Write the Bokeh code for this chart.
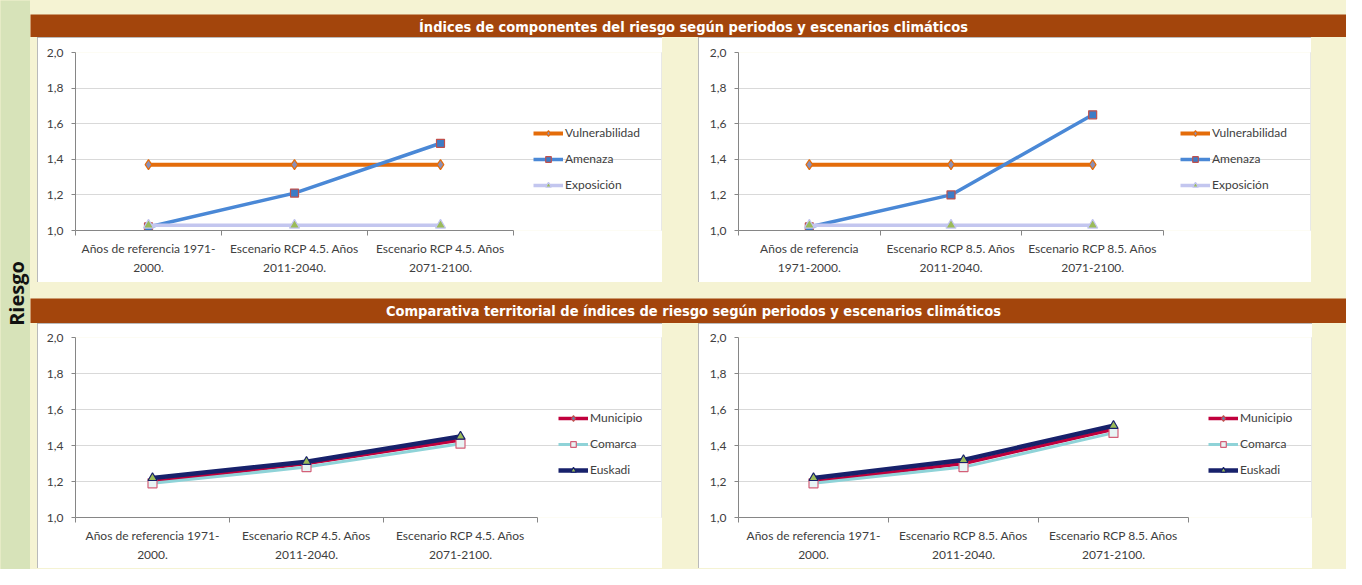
import numpy as np
from math import pi
from bokeh.plotting import figure
from bokeh.layouts import row, column
from bokeh.models import (Range1d, FixedTicker, CustomJSTickFormatter, Legend,
                          LegendItem, Label, Spacer)
from bokeh.embed import file_html
from bokeh.resources import INLINE

# ---------------- data ----------------
labels_45 = ["Años de referencia 1971-\n2000.",
             "Escenario RCP 4.5. Años\n2011-2040.",
             "Escenario RCP 4.5. Años\n2071-2100."]
labels_85_top = ["Años de referencia\n1971-2000.",
                 "Escenario RCP 8.5. Años\n2011-2040.",
                 "Escenario RCP 8.5. Años\n2071-2100."]
labels_85_bottom = ["Años de referencia 1971-\n2000.",
                    "Escenario RCP 8.5. Años\n2011-2040.",
                    "Escenario RCP 8.5. Años\n2071-2100."]

vulnerabilidad_45 = [1.37, 1.37, 1.37]
amenaza_45 = [1.02, 1.21, 1.49]
exposicion_45 = [1.03, 1.03, 1.03]

vulnerabilidad_85 = [1.37, 1.37, 1.37]
amenaza_85 = [1.02, 1.20, 1.65]
exposicion_85 = [1.03, 1.03, 1.03]

municipio_45 = [1.20, 1.30, 1.43]
comarca_45 = [1.19, 1.28, 1.41]
euskadi_45 = [1.22, 1.31, 1.45]

municipio_85 = [1.20, 1.30, 1.49]
comarca_85 = [1.19, 1.28, 1.47]
euskadi_85 = [1.22, 1.32, 1.51]

y_ticks = [1.0, 1.2, 1.4, 1.6, 1.8, 2.0]

title_top = "Índices de componentes del riesgo según periodos y escenarios climáticos"
title_bottom = "Comparativa territorial de índices de riesgo según periodos y escenarios climáticos"
side_label = "Riesgo"

# ---------------- styles ----------------
CREAM = "#f5f3d3"
GREEN = "#d7e3b9"
BAR = "#a3450c"
AXIS_FONT = "Lato"
TXT = "#404040"

series_top = [
    dict(name="Vulnerabilidad", line="#e46c0a", width=4, marker="diamond", size=10,
         fill="#8c90b6", mline="#e46c0a"),
    dict(name="Amenaza", line="#4a88d6", width=3.5, marker="square", size=8,
         fill="#3d7cc6", mline="#c0504d"),
    dict(name="Exposición", line="#c3c6ef", width=3.5, marker="triangle", size=10,
         fill="#9bbb59", mline="#c3c6ef"),
]
series_bottom = [
    dict(name="Municipio", line="#c0003c", width=3.5, marker="diamond", size=9,
         fill="#4f81bd", mline="#c0504d"),
    dict(name="Comarca", line="#8fd3d8", width=3, marker="square", size=9,
         fill="#e8f4f4", mline="#d35f78"),
    dict(name="Euskadi", line="#17216b", width=4.5, marker="triangle", size=9,
         fill="#9bbb59", mline="#17216b"),
]


def deco(width, height, color, text, font, size, tx, ty, style="bold", angle=0.0,
         text_color="white"):
    p = figure(width=width, height=height, x_range=Range1d(0, width),
               y_range=Range1d(0, height),
               output_backend="svg", toolbar_location=None, x_axis_type=None,
               y_axis_type=None, min_border=0, background_fill_color=color,
               border_fill_color=color, outline_line_color=None)
    p.add_layout(Label(x=tx, y=height - ty, text=text, text_align="center",
                       text_baseline="middle", text_font=font, text_font_size=size,
                       text_font_style=style, text_color=text_color, angle=angle))
    return p


def chart(panel_w, axis_len, fh, bl, bt, bb, labels, values, specs, legend_xy):
    n = len(labels)
    fw = panel_w - bl - 1                      # frame also hosts the legend area
    x_end = n * fw / axis_len                  # axis itself spans 0..n
    p = figure(frame_width=fw, frame_height=fh, x_range=Range1d(0, x_end),
               y_range=Range1d(1.0, 2.0),
               output_backend="svg", toolbar_location=None,
               min_border_left=bl, min_border_right=1, min_border_top=bt,
               min_border_bottom=bb, background_fill_color="white",
               border_fill_color="white", outline_line_color=None,
               styles={"outline": "1px solid #a3a3a3", "outline-offset": "-1px"})
    xs = np.arange(n) + 0.5
    # x axis: labels at centres, ticks at boundaries
    p.xaxis.bounds = (0, n)
    p.xaxis.ticker = FixedTicker(ticks=list(xs), minor_ticks=list(np.arange(n + 1)))
    p.xaxis.major_label_overrides = {float(x): l for x, l in zip(xs, labels)}
    p.xaxis.major_tick_line_color = None
    p.xaxis.major_tick_out = 4
    p.xaxis.major_tick_in = 0
    p.xaxis.minor_tick_line_color = "#868686"
    p.xaxis.minor_tick_out = 5
    p.xaxis.minor_tick_in = 0
    p.xaxis.major_label_standoff = 5
    p.xaxis.major_label_text_line_height = 1.3
    # y axis
    p.yaxis.ticker = FixedTicker(ticks=y_ticks, minor_ticks=[])
    p.yaxis.formatter = CustomJSTickFormatter(code="return tick.toFixed(1).replace('.', ',');")
    p.yaxis.major_tick_out = 4
    p.yaxis.major_tick_in = 0
    p.yaxis.major_tick_line_color = "#868686"
    p.yaxis.major_label_standoff = 8
    for ax in (p.xaxis, p.yaxis):
        ax.axis_line_color = "#868686"
        ax.major_label_text_font = AXIS_FONT
        ax.major_label_text_font_size = "12px"
        ax.major_label_text_color = TXT
    p.xgrid.visible = False
    p.ygrid.ticker = FixedTicker(ticks=y_ticks[1:])
    p.ygrid.bounds = (0, n)
    p.ygrid.grid_line_color = "#d9d9d9"

    items = []
    for vals, s in zip(values, specs):
        r1 = p.line(xs, vals, line_color=s["line"], line_width=s["width"])
        r2 = p.scatter(xs, vals, marker=s["marker"], size=s["size"],
                       fill_color=s["fill"], line_color=s["mline"], line_width=1.2)
        items.append(LegendItem(label=s["name"], renderers=[r1, r2]))
    leg = Legend(items=items, location=legend_xy, background_fill_alpha=0,
                 border_line_color=None, label_text_font=AXIS_FONT,
                 label_text_font_size="12px", label_text_color=TXT,
                 glyph_width=30, glyph_height=14, label_height=14, spacing=11,
                 padding=0, margin=0, label_standoff=2)
    p.add_layout(leg, "center")
    return p


# panels: top-left 37..662 x 37..282 ; top-right 698..1311 ; bottom rows 323..568
tl = chart(625, 438, 178, 38, 15, 52, labels_45,
           [vulnerabilidad_45, amenaza_45, exposicion_45], series_top, (458, 38))
tr = chart(613, 425, 178, 40, 15, 52, labels_85_top,
           [vulnerabilidad_85, amenaza_85, exposicion_85], series_top, (442, 38))
bl = chart(625, 462, 180, 38, 14, 51, labels_45,
           [municipio_45, comarca_45, euskadi_45], series_bottom, (483, 40))
br = chart(614, 450, 180, 40, 14, 51, labels_85_bottom,
           [municipio_85, comarca_85, euskadi_85], series_bottom, (470, 40))

W_RIGHT = 1316
bar1 = deco(W_RIGHT, 23, BAR, title_top, "DejaVu Sans Condensed", "14.5px", 663, 12)
bar2 = deco(W_RIGHT, 25, BAR, title_bottom, "DejaVu Sans Condensed", "14.5px", 663, 12.5)
left = deco(30, 569, GREEN, side_label, "Open Sans", "20px", 16, 293, angle=pi / 2,
            text_color="#111111")

row1 = row([Spacer(width=7, height=245), tl, Spacer(width=36, height=245), tr,
            Spacer(width=35, height=245)], styles={"background-color": CREAM})
row2 = row([Spacer(width=7, height=245), bl, Spacer(width=36, height=245), br,
            Spacer(width=34, height=245)], styles={"background-color": CREAM})

right = column([Spacer(width=W_RIGHT, height=14), bar1, row1,
                Spacer(width=W_RIGHT, height=16), bar2, row2,
                Spacer(width=W_RIGHT, height=1)], styles={"background-color": CREAM})
root = row([left, right], styles={"background-color": CREAM})

open("out.html", "w").write(file_html(root, INLINE))
